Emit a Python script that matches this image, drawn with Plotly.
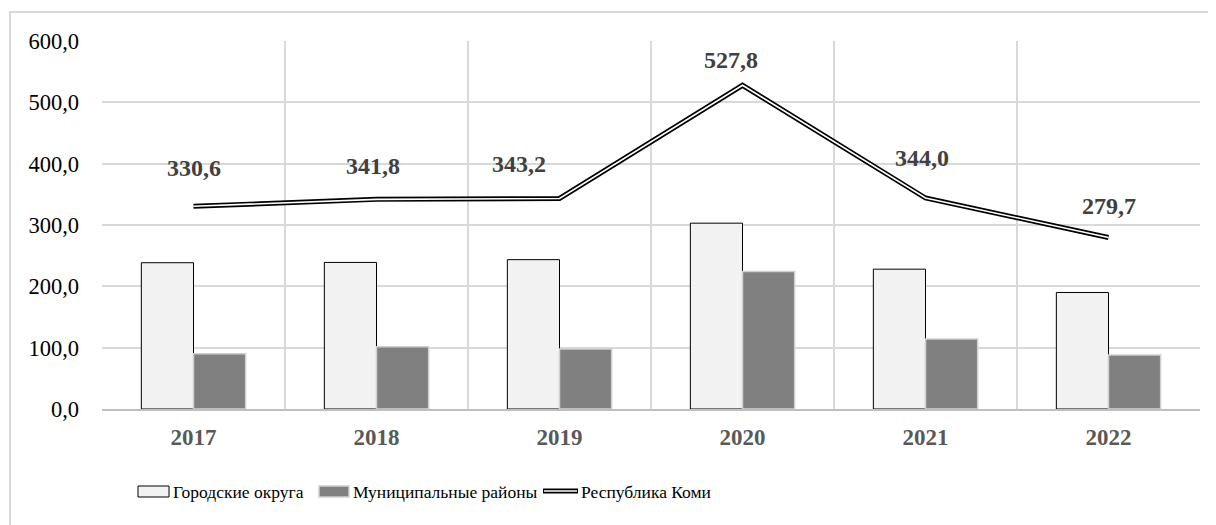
import plotly.graph_objects as go

years = ["2017", "2018", "2019", "2020", "2021", "2022"]
gorod_okruga = [238.5, 239.0, 243.5, 303.0, 228.0, 190.0]
mun_rayony = [90.0, 101.5, 98.0, 224.0, 114.0, 88.0]
resp_komi = [330.6, 341.8, 343.2, 527.8, 344.0, 279.7]
y_ticks = [0, 100, 200, 300, 400, 500, 600]
series_names = ["Городские округа", "Муниципальные районы", "Республика Коми"]

# label offsets (px) as placed in the reference
label_dx = [0, -4, -41, -12, -4, 0]
label_dy = [38, 33, 35, 25, 40, 31]

# page body has an 8px margin; compensate so the chart lands where the reference has it
OFF = 8
W, H = 1216 - OFF, 525 - OFF
L, R, T, B = 102 - OFF, 16, 41 - OFF, 116
PW, PH = W - L - R, H - T - B

def px(x):
    return (x - OFF - L) / PW

def py(y):
    return (H - B - (y - OFF)) / PH

SERIF = "Times New Roman, Liberation Serif, DejaVu Serif, serif"

fig = go.Figure()
fig.add_trace(go.Bar(x=years, y=gorod_okruga, name=series_names[0],
                     marker=dict(color="#f2f2f2", line=dict(color="#000000", width=1)),
                     showlegend=False))
fig.add_trace(go.Bar(x=years, y=mun_rayony, name=series_names[1],
                     marker=dict(color="#808080", line=dict(color="#d0d0d0", width=1.5)),
                     showlegend=False))
fig.add_trace(go.Scatter(x=years, y=resp_komi, name=series_names[2], mode="lines",
                         line=dict(color="#000000", width=5), showlegend=False))
fig.add_trace(go.Scatter(x=years, y=resp_komi, name=series_names[2], mode="lines",
                         line=dict(color="#ffffff", width=1.6), showlegend=False,
                         hoverinfo="skip"))

for i, v in enumerate(resp_komi):
    fig.add_annotation(x=i, y=v, xref="x", yref="y", text=f"{v:.1f}".replace(".", ","),
                       showarrow=False, xshift=label_dx[i], yshift=label_dy[i],
                       font=dict(family=SERIF, size=24, color="#404040", weight="bold"))

shapes = []
# outer border
shapes.append(dict(type="rect", xref="paper", yref="paper",
                   x0=px(10), x1=px(1240), y0=py(560), y1=py(12),
                   line=dict(color="#d9d9d9", width=2), fillcolor="rgba(0,0,0,0)", layer="below"))
# legend swatches
shapes.append(dict(type="rect", xref="paper", yref="paper",
                   x0=px(138), x1=px(169), y0=py(497), y1=py(486),
                   line=dict(color="#000000", width=1), fillcolor="#f2f2f2"))
shapes.append(dict(type="rect", xref="paper", yref="paper",
                   x0=px(319), x1=px(349), y0=py(497), y1=py(486),
                   line=dict(color="#d0d0d0", width=1.5), fillcolor="#808080"))
shapes.append(dict(type="line", xref="paper", yref="paper",
                   x0=px(543), x1=px(578), y0=py(491), y1=py(491),
                   line=dict(color="#000000", width=5)))
shapes.append(dict(type="line", xref="paper", yref="paper",
                   x0=px(544), x1=px(577), y0=py(491), y1=py(491),
                   line=dict(color="#ffffff", width=1.6)))

for name, xpos in zip(series_names, [171, 351, 579]):
    fig.add_annotation(xref="paper", yref="paper", x=px(xpos), y=py(492), text=name,
                       showarrow=False, xanchor="left", yanchor="middle",
                       font=dict(family=SERIF, size=17.5, color="#000000"))

fig.update_layout(
    width=W, height=H,
    margin=dict(l=L, r=R, t=T, b=B),
    paper_bgcolor="#ffffff", plot_bgcolor="#ffffff",
    barmode="group", bargap=0.43, bargroupgap=0,
    separators=", ",
    shapes=shapes,
    showlegend=False,
    xaxis=dict(type="category", range=[-0.5, 5.5], tickson="boundaries", showgrid=True,
               gridcolor="#d9d9d9", gridwidth=1.5, showline=True, linecolor="#bfbfbf",
               linewidth=1.5, ticks="", ticklabelstandoff=7,
               tickfont=dict(family=SERIF, size=23, color="#595959", weight="bold")),
    yaxis=dict(range=[0, 600], tickvals=y_ticks, tickformat=".1f", showgrid=True,
               gridcolor="#d9d9d9", gridwidth=1.5, zeroline=False, showline=False,
               ticks="", ticklabelstandoff=22,
               tickfont=dict(family=SERIF, size=22.5, color="#000000")),
)

fig.write_html("out.html")
